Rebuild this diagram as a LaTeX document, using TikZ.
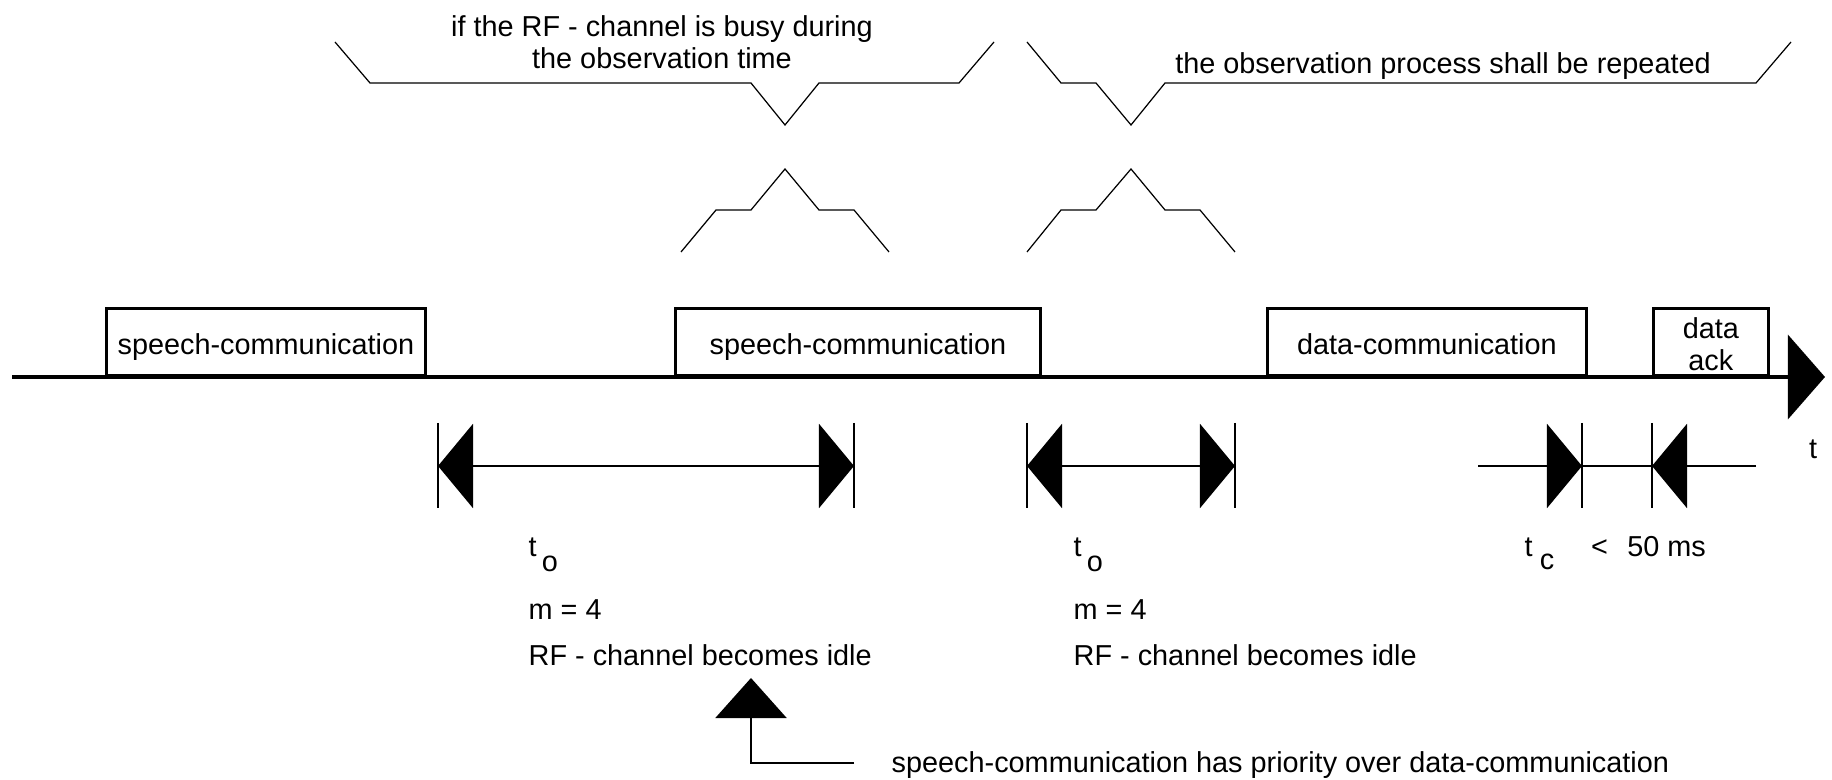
\documentclass[tikz,border=0pt]{standalone}
\usepackage{fontspec}
\setmainfont{Liberation Sans}
\usepackage{tikz}
\usetikzlibrary{arrows.meta,positioning}

\begin{document}
\begin{tikzpicture}[x=0.01cm, y=-0.01cm]
	\tikzstyle{every node} = [font=\fontsize{8.2}{9.2}\selectfont, inner sep=0pt]
	\tikzstyle{box} = [draw, line width=0.75pt, minimum height=0.67cm, anchor=south west, align=center, text height=9pt, text depth=1.7pt]
	\tikzstyle{brace} = [line width=0.35pt]
	\tikzstyle{tick} = [line width=0.3pt]
	\tikzstyle{dim} = [line width=0.6pt]
\useasboundingbox (0,0) rectangle (1832,780);
% time axis
\coordinate (0) at (12,377);
\coordinate (1) at (1825,377);
\path[draw, line width=0.9pt, -{Triangle[length=0.37cm,width=0.84cm]}] (0) -- (1);
\node (t) at (1813,449) {t};
% bursts on the channel
\node[box, minimum width=3.19cm] (s1) at (105,377) {speech-communication};
\node[box, minimum width=3.65cm] (s2) at (674,377) {speech-communication};
\node[box, minimum width=3.19cm] (d1) at (1266,377) {data-communication};
\node[box, minimum width=1.15cm, text height=, text depth=, font=\fontsize{8.2}{9.2}\selectfont] (d2) at (1652,377) {\rule{0pt}{7.2pt}data\\ack};
% observation times
\coordinate (2) at (438,466);
\coordinate (3) at (854,466);
\coordinate (4) at (1027,466);
\coordinate (5) at (1235,466);
\path[draw, dim, {Triangle[length=0.35cm,width=0.84cm]}-{Triangle[length=0.35cm,width=0.84cm]}] (2) -- (3);
\path[draw, dim, {Triangle[length=0.35cm,width=0.84cm]}-{Triangle[length=0.35cm,width=0.84cm]}] (4) -- (5);
\path[draw, tick] (2) ++(0,-43) -- ++(0,85);
\path[draw, tick] (3) ++(0,-43) -- ++(0,85);
\path[draw, tick] (4) ++(0,-43) -- ++(0,85);
\path[draw, tick] (5) ++(0,-43) -- ++(0,85);
% guard time before ack
\coordinate (6) at (1478,466);
\coordinate (7) at (1582,466);
\coordinate (8) at (1652,466);
\coordinate (9) at (1756,466);
\path[draw, dim, -{Triangle[length=0.35cm,width=0.84cm]}] (6) -- (7);
\path[draw, dim] (7) -- (8);
\path[draw, dim, -{Triangle[length=0.35cm,width=0.84cm]}] (9) -- (8);
\path[draw, tick] (7) ++(0,-43) -- ++(0,85);
\path[draw, tick] (8) ++(0,-43) -- ++(0,85);
% braces
\path[draw, brace] (335,42) -- (370,83) -- (751,83) -- (785,125) -- (819,83) -- (959,83) -- (994,42);
\path[draw, brace] (1027,42) -- (1061,83) -- (1096,83) -- (1131,125) -- (1165,83) -- (1756,83) -- (1791,42);
\path[draw, brace] (681,252) -- (716,210) -- (751,210) -- (785,169) -- (819,210) -- (854,210) -- (889,252);
\path[draw, brace] (1027,252) -- (1061,210) -- (1096,210) -- (1131,169) -- (1165,210) -- (1200,210) -- (1235,252);
\node[align=center] (busy) at (662,42) {if the RF - channel is busy during\\the observation time};
\node (rep) at (1443,66) {the observation process shall be repeated};
% labels under the times
\node[anchor=base west] (to1) at (528,557) {t\hspace{1.5pt}\raisebox{-4pt}{o}};
\node[anchor=west] (m1) at (528,610) {m = 4};
\node[anchor=west] (idle1) at (528,655) {RF - channel becomes idle};
\node[anchor=base west] (to2) at (1073,557) {t\hspace{1.5pt}\raisebox{-4pt}{o}};
\node[anchor=west] (m2) at (1073,610) {m = 4};
\node[anchor=west] (idle2) at (1073,655) {RF - channel becomes idle};
\node[anchor=base west] (tc) at (1524,557) {t\hspace{2pt}\raisebox{-3.6pt}{c}\hspace{10.5pt}<\hspace{5.5pt}50 ms};
% priority note
\coordinate (10) at (854,763);
\coordinate (11) at (751,763);
\coordinate (12) at (751,678);
\path[draw, dim, -{Triangle[length=0.4cm,width=0.71cm]}] (10) -- (11) -- (12);
\node[anchor=west] (prio) at (891,765) {speech-communication has priority over data-communication};
	\end{tikzpicture}
\end{document}
